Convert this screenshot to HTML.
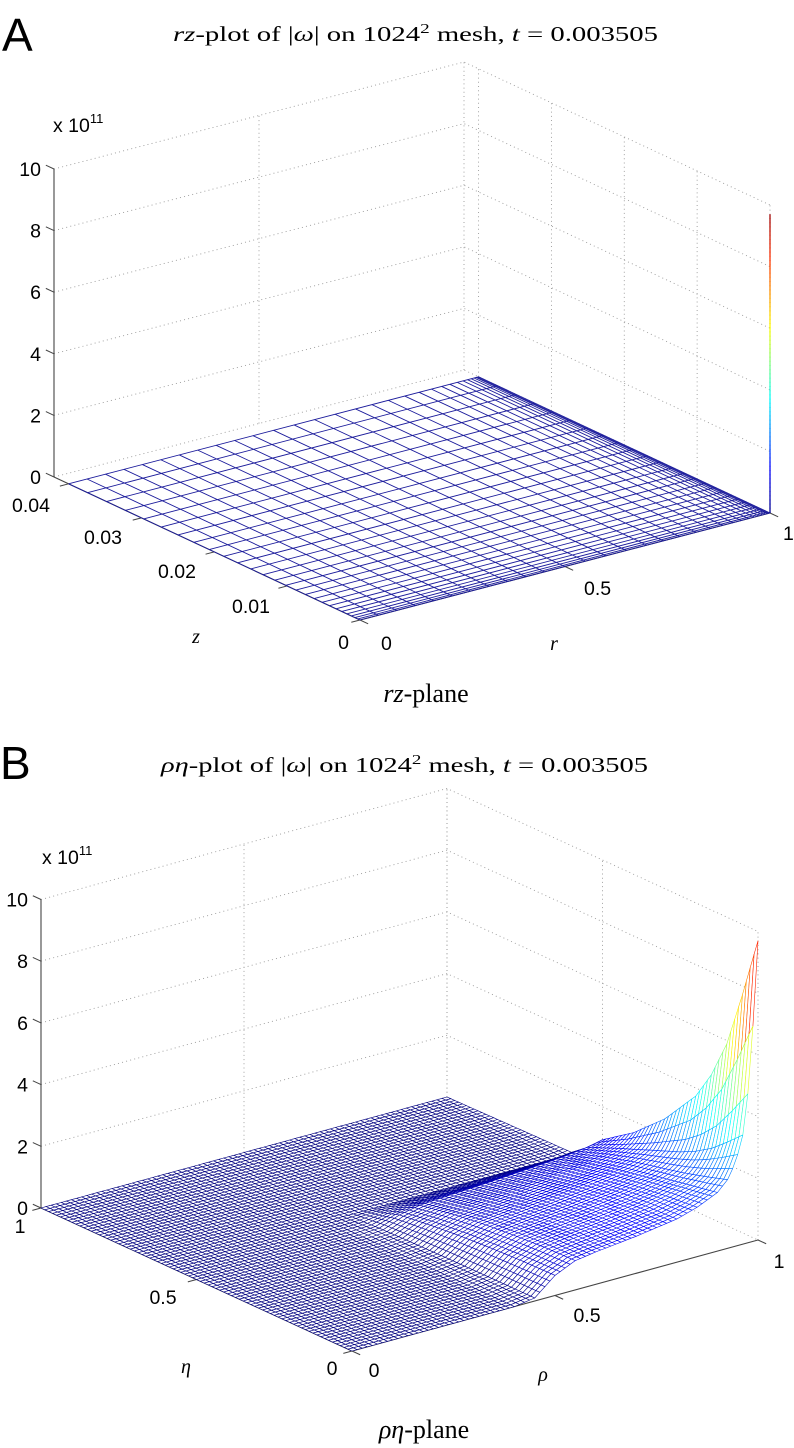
<!DOCTYPE html>
<html><head><meta charset="utf-8">
<style>
html,body{margin:0;padding:0;background:#fff;}
svg{display:block;}
.tk{font-family:"Liberation Sans",sans-serif;font-size:19.5px;fill:#000;}
.ser{font-family:"Liberation Serif","DejaVu Serif",serif;fill:#000;}
.it{font-style:italic;}
</style></head>
<body>
<svg id="fig" width="794" height="1448" viewBox="0 0 794 1448" xmlns="http://www.w3.org/2000/svg">
<defs>
<linearGradient id="jetv" x1="0" y1="1" x2="0" y2="0">
<stop offset="0" stop-color="#00008f"/><stop offset="0.15" stop-color="#0000ff"/><stop offset="0.38" stop-color="#00ffff"/><stop offset="0.62" stop-color="#ffff00"/><stop offset="0.85" stop-color="#ff3000"/><stop offset="1" stop-color="#a00000"/>
</linearGradient>
</defs>
<g>
<text x="2" y="51" font-family="Liberation Sans, sans-serif" font-size="46">A</text>
<text class="ser" x="173" y="41" font-size="21" textLength="485" lengthAdjust="spacingAndGlyphs"><tspan class="it">rz</tspan>-plot of |<tspan class="it">ω</tspan>| on 1024<tspan dy="-8" font-size="14">2</tspan><tspan dy="8"> mesh, </tspan><tspan class="it">t</tspan> = 0.003505</text>
<text class="tk" x="53" y="132">x 10<tspan dy="-9" font-size="13">11</tspan></text>
<text class="tk" x="50" y="512" text-anchor="end">0.04</text>
<text class="tk" x="122" y="544" text-anchor="end">0.03</text>
<text class="tk" x="196" y="578" text-anchor="end">0.02</text>
<text class="tk" x="270" y="613" text-anchor="end">0.01</text>
<text class="tk" x="349" y="649" text-anchor="end">0</text>
<text class="tk" x="381" y="650">0</text>
<text class="tk" x="584" y="595">0.5</text>
<text class="tk" x="783" y="540">1</text>
<text class="ser it" x="196" y="643" font-size="20" text-anchor="middle">z</text>
<text class="ser it" x="554" y="650" font-size="20" text-anchor="middle">r</text>
<text class="ser" x="426" y="702" font-size="26" text-anchor="middle"><tspan class="it">rz</tspan>-plane</text>
</g>
<g>
<text x="0" y="779" font-family="Liberation Sans, sans-serif" font-size="46">B</text>
<text class="ser" x="161" y="772" font-size="21" textLength="487" lengthAdjust="spacingAndGlyphs"><tspan class="it">ρη</tspan>-plot of |<tspan class="it">ω</tspan>| on 1024<tspan dy="-8" font-size="14">2</tspan><tspan dy="8"> mesh, </tspan><tspan class="it">t</tspan> = 0.003505</text>
<text class="tk" x="42" y="864">x 10<tspan dy="-9" font-size="13">11</tspan></text>
<text class="tk" x="20" y="1233" text-anchor="middle">1</text>
<text class="tk" x="163" y="1304" text-anchor="middle">0.5</text>
<text class="tk" x="332" y="1375" text-anchor="middle">0</text>
<text class="tk" x="374" y="1377" text-anchor="middle">0</text>
<text class="tk" x="587" y="1322" text-anchor="middle">0.5</text>
<text class="tk" x="779" y="1268" text-anchor="middle">1</text>
<text class="ser it" x="186" y="1373" font-size="20" text-anchor="middle">η</text>
<text class="ser it" x="543" y="1381" font-size="20" text-anchor="middle">ρ</text>
<text class="ser" x="424" y="1438" font-size="26" text-anchor="middle"><tspan class="it">ρη</tspan>-plane</text>
</g>
</svg>
<script>
// ---- data ----
const wTicks = [0, 2, 4, 6, 8, 10];
const wTickLabels = ["0", "2", "4", "6", "8", "10"];
const aRGrid = [0,0.045,0.09,0.135,0.18,0.225,0.27,0.315,0.36,0.405,0.45,0.5,0.55,0.6,0.65,0.7,0.74,0.78,0.82,0.855,0.885,0.91,0.93,0.948,0.962,0.973,0.982,0.989,0.994,0.997,1];
const aZGrid = [0,0.0003,0.0007,0.0012,0.0018,0.0025,0.0033,0.0042,0.0052,0.0063,0.0075,0.0088,0.0102,0.0117,0.0133,0.015,0.0168,0.0187,0.0207,0.0228,0.025,0.0273,0.0297,0.0322,0.0348,0.0374,0.04];
const aZTicks = [0, 0.01, 0.02, 0.03, 0.04];
const aRTicks = [0, 0.5, 1];
const aSpikeZ = [0];
const aSpikeVal = [9.7];
const ridgeRho = [0,0.4,0.45,0.5,0.55,0.6,0.7,0.8,0.9,0.95,1];
const ridgeVal = [0,0,0.1,0.65,0.95,1.05,1.2,1.4,1.6,1.75,1.9];
const stepEta = [0,0.1,0.2,0.3,0.4,0.5,0.55,0.6,1];
const stepVal = [1,0.97,0.9,0.8,0.65,0.45,0.2,0,0];
const spikeRho = [0,0.8,0.85,0.9,0.93,0.96,0.98,1];
const spikeVal = [0,0,0.1,0.3,0.6,1.5,3.5,7.8];
const spikeEta = [0,0.05,0.1,0.15,0.2,0.3,0.4,0.5,1];
const spikeDecay = [1,0.75,0.52,0.37,0.26,0.13,0.05,0.01,0];
const bEtaTicks = [0, 0.5, 1];
const bRhoTicks = [0, 0.5, 1];
const bCount = 80;
const colorMax = 9.7;

const NS = 'http://www.w3.org/2000/svg';
const svg = document.getElementById('fig');
function mk(tag, attrs, parent) {
  const e = document.createElementNS(NS, tag);
  for (const k in attrs) e.setAttribute(k, attrs[k]);
  parent.appendChild(e);
  return e;
}
function interp(xs, ys, x) {
  if (x <= xs[0]) return ys[0];
  for (let i = 1; i < xs.length; i++) {
    if (x <= xs[i]) { const t = (x - xs[i-1]) / (xs[i] - xs[i-1]); return ys[i-1] + t * (ys[i] - ys[i-1]); }
  }
  return ys[ys.length - 1];
}
function cl(v){ return Math.max(0, Math.min(1, v)); }
function jet(t) {
  t = cl(t);
  const r = cl(1.5 - Math.abs(4*t - 3)), g = cl(1.5 - Math.abs(4*t - 2)), b = cl(1.5 - Math.abs(4*t - 1));
  return 'rgb(' + Math.round(r*255) + ',' + Math.round(g*255) + ',' + Math.round(b*255) + ')';
}
const PA = {fx:360, fy:620, ux:410, uy:-107, vx:-306, vy:-143, k:30.8, vmax:0.042};
const PB = {fx:352, fy:1351, ux:406, uy:-111, vx:-311, vy:-143, k:30.85, vmax:1};
function proj(p, u, v, w) {
  const s = v / p.vmax;
  return [p.fx + u*p.ux + s*p.vx, p.fy + u*p.uy + s*p.vy - w*p.k];
}
function pts(a){ return a.map(q => q[0].toFixed(1) + ',' + q[1].toFixed(1)).join(' '); }

function drawFrame(p, g, uTicks, vTicks, name) {
  const vB = p.vmax;
  wTicks.forEach(w => {
    const a = proj(p, 0, vB, w), b = proj(p, 1, vB, w), c = proj(p, 1, 0, w);
    const l = mk('polyline', {points: pts([a, b, c]), fill: 'none', stroke: '#9a9a9a', 'stroke-width': 0.9, 'stroke-dasharray': '1 3.2'}, g);
    
    
  });
  uTicks.forEach(u => {
    if (u === 0) return;
    const a = proj(p, u, vB, 0), b = proj(p, u, vB, 10);
    const l = mk('line', {x1: a[0], y1: a[1], x2: b[0], y2: b[1], stroke: '#9a9a9a', 'stroke-width': 0.9, 'stroke-dasharray': '1 3.2'}, g);
    
    
  });
  vTicks.forEach(v => {
    const a = proj(p, 1, v, 0), b = proj(p, 1, v, 10);
    const l = mk('line', {x1: a[0], y1: a[1], x2: b[0], y2: b[1], stroke: '#9a9a9a', 'stroke-width': 0.9, 'stroke-dasharray': '1 3.2'}, g);
    
    
  });
  const a0 = proj(p, 0, vB, 0), a1 = proj(p, 0, vB, 10);
  const ax = mk('line', {x1: a0[0], y1: a0[1], x2: a1[0], y2: a1[1], stroke: '#555', 'stroke-width': 1.2}, g);
  
  
  const vl = Math.hypot(p.vx, p.vy), ul = Math.hypot(p.ux, p.uy);
  wTicks.forEach((w, i) => {
    const q = proj(p, 0, vB, w);
    const t = mk('line', {x1: q[0], y1: q[1], x2: q[0] + 9*p.vx/vl, y2: q[1] + 9*p.vy/vl, stroke: '#444', 'stroke-width': 1}, g);
    
    
    const tx = mk('text', {x: q[0] - 13, y: q[1] + 7, 'text-anchor': 'end', class: 'tk'}, g);
    tx.textContent = wTickLabels[i];
    
    
  });
  const f0 = proj(p, 0, 0, 0), fl = proj(p, 0, vB, 0), fr = proj(p, 1, 0, 0);
  const e1 = mk('polyline', {points: pts([fl, f0, fr]), fill: 'none', stroke: '#444', 'stroke-width': 1.1}, g);
  
  
  vTicks.forEach(v => {
    const q = proj(p, 0, v, 0);
    const t = mk('line', {x1: q[0], y1: q[1], x2: q[0] - 9*p.ux/ul, y2: q[1] - 9*p.uy/ul, stroke: '#444', 'stroke-width': 1}, g);
    
    
  });
  uTicks.forEach(u => {
    const q = proj(p, u, 0, 0);
    const t = mk('line', {x1: q[0], y1: q[1], x2: q[0] - 9*p.vx/vl, y2: q[1] - 9*p.vy/vl, stroke: '#444', 'stroke-width': 1}, g);
    
    
  });
}

// ---- Panel A ----
const gA = mk('g', {}, svg);


drawFrame(PA, gA, aRTicks, aZTicks, 'a');
const meshA = mk('g', {fill: 'none', stroke: '#1c1c9c', 'stroke-width': 0.9}, gA);


aRGrid.forEach(r => {
  const a = proj(PA, r, 0, 0), b = proj(PA, r, aZGrid[aZGrid.length-1], 0);
  const l = mk('line', {x1: a[0], y1: a[1], x2: b[0], y2: b[1]}, meshA);
  
  
});
aZGrid.forEach(z => {
  const a = proj(PA, 0, z, 0), b = proj(PA, 1, z, 0);
  const l = mk('line', {x1: a[0], y1: a[1], x2: b[0], y2: b[1]}, meshA);
  
  
});
aSpikeZ.forEach((z, i) => {
  const a = proj(PA, 1, z, 0), b = proj(PA, 1, z, aSpikeVal[i]);
  const r = mk('rect', {x: a[0] - 0.8, y: b[1], width: 1.6, height: a[1] - b[1], fill: 'url(#jetv)', opacity: 0.8}, gA);
  
  
});

// ---- Panel B ----
const gB = mk('g', {}, svg);


drawFrame(PB, gB, bRhoTicks, bEtaTicks, 'b');
function fB(r, e) {
  return interp(ridgeRho, ridgeVal, r) * interp(stepEta, stepVal, e) + interp(spikeRho, spikeVal, r) * interp(spikeEta, spikeDecay, e);
}
const meshB = mk('g', {fill: '#fff', 'stroke-width': 0.6, 'stroke-linejoin': 'round'}, gB);


const quads = [];
for (let i = 0; i < bCount; i++) {
  for (let j = 0; j < bCount; j++) {
    const r0 = i / bCount, r1 = (i+1) / bCount, e0 = j / bCount, e1 = (j+1) / bCount;
    const depth = PB.uy*(r0+r1)/2 + PB.vy*(e0+e1)/2;
    quads.push([depth, r0, r1, e0, e1]);
  }
}
quads.sort((a, b) => a[0] - b[0]);
quads.forEach(q => {
  const [, r0, r1, e0, e1] = q;
  const v00 = fB(r0, e0), v10 = fB(r1, e0), v11 = fB(r1, e1), v01 = fB(r0, e1);
  const c = [proj(PB, r0, e0, v00), proj(PB, r1, e0, v10), proj(PB, r1, e1, v11), proj(PB, r0, e1, v01)];
  const avg = (v00 + v10 + v11 + v01) / 4;
  const p = mk('polygon', {points: pts(c), stroke: jet(avg / colorMax)}, meshB);
  
  
});
</script>
</body></html>
